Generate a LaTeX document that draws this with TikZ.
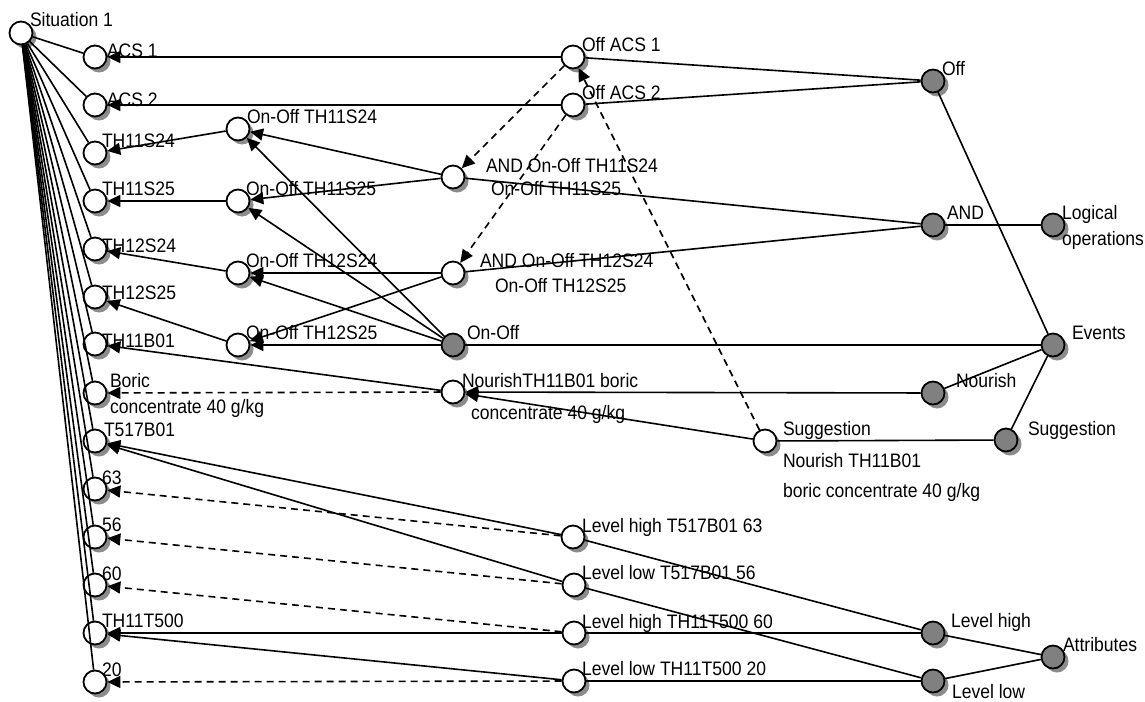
\documentclass[tikz,border=0pt]{standalone}
\usepackage{fontspec}
\setmainfont{Liberation Sans}[FakeStretch=0.9]
\usetikzlibrary{arrows.meta,shadows}
\definecolor{nodegray}{HTML}{808080}
\definecolor{shadowgray}{HTML}{8C8C8C}
\begin{document}
\begin{tikzpicture}[x=1pt,y=-1pt,
  font=\fontsize{19.5}{22}\selectfont,
  basenode/.style={circle,draw,line width=1.8pt,minimum size=23pt,inner sep=0pt,
    general shadow={fill=shadowgray,shadow xshift=4pt,shadow yshift=-4pt}},
  wn/.style={basenode,fill=white},
  gn/.style={basenode,fill=nodegray},
  lbl/.style={anchor=base west,inner sep=0pt,outer sep=0pt},
  ln/.style={line width=1.6pt},
  ar/.style={ln,-{Triangle[length=13pt,width=12pt]}},
  da/.style={ar,dash pattern=on 7pt off 5pt},
  dl/.style={ln,dash pattern=on 7pt off 5pt}]
\useasboundingbox (0,0) rectangle (1145,701);

% ---- nodes ----
\node[wn] (s1) at (21,33) {};
\node[wn] (acs1) at (95,57) {};
\node[wn] (acs2) at (95,105) {};
\node[wn] (t1124) at (95,153) {};
\node[wn] (t1125) at (95,201) {};
\node[wn] (t1224) at (95,249) {};
\node[wn] (t1225) at (95,297) {};
\node[wn] (t11b) at (95,344) {};
\node[wn] (boric) at (95,393) {};
\node[wn] (t517) at (95,441) {};
\node[wn] (n63) at (95,489) {};
\node[wn] (n56) at (95,537) {};
\node[wn] (n60) at (95,585) {};
\node[wn] (t500) at (95,633) {};
\node[wn] (n20) at (95,682) {};

\node[wn] (oo1) at (238,129) {};
\node[wn] (oo2) at (238,201) {};
\node[wn] (oo3) at (238,273) {};
\node[wn] (oo4) at (238,345) {};

\node[wn] (and1) at (453,177) {};
\node[wn] (and2) at (453,273) {};
\node[gn] (onoff) at (453,345) {};
\node[wn] (nour1) at (453,392) {};

\node[wn] (offa1) at (573,57) {};
\node[wn] (offa2) at (573,105) {};
\node[wn] (lh63) at (573,537) {};
\node[wn] (ll56) at (574,585) {};
\node[wn] (lh60) at (574,633) {};
\node[wn] (ll20) at (574,681) {};
\node[wn] (sugw) at (765,441) {};

\node[gn] (offg) at (933,81) {};
\node[gn] (andg) at (933,225) {};
\node[gn] (nourg) at (933,393) {};
\node[gn] (lhg) at (933,633) {};
\node[gn] (llg) at (933,681) {};
\node[gn] (sugg) at (1006,440) {};

\node[gn] (logic) at (1053,225) {};
\node[gn] (events) at (1053,345) {};
\node[gn] (attr) at (1053,657) {};

% ---- edges ----
\foreach \t in {acs1,acs2,t1124,t1125,t1224,t1225,t11b,boric,t517,n63,n56,n60,t500,n20}
  \draw[ln] (s1) -- (\t);

\draw[ar] (offa1) -- (acs1);
\draw[ar] (offa2) -- (acs2);
\draw[ar] (oo1) -- (t1124);
\draw[ar] (oo2) -- (t1125);
\draw[ar] (oo3) -- (t1224);
\draw[ar] (oo4) -- (t1225);
\draw[ar] (and1) -- (oo1);
\draw[ar] (and1) -- (oo2);
\draw[ar] (and2) -- (oo3);
\draw[ar] (and2) -- (oo4);
\draw[ar] (onoff) -- (oo1);
\draw[ar] (onoff) -- (oo2);
\draw[ar] (onoff) -- (oo3);
\draw[ar] (onoff) -- (oo4);
\draw[ar] (nour1) -- (t11b);
\draw[da] (nour1) -- (boric);
\draw[ar] (nourg) -- (nour1);
\draw[ar] (sugw) -- (nour1);
\draw[da] (sugw) -- (offa1);
\draw[da] (offa1) -- (and1);
\draw[da] (offa2) -- (and2);

\draw[ln] (offg) -- (offa1);
\draw[ln] (offg) -- (offa2);
\draw[ln] (offg) -- (events);
\draw[ln] (andg) -- (and1);
\draw[ln] (andg) -- (and2);
\draw[ln] (andg) -- (logic);
\draw[ln] (onoff) -- (events);
\draw[ln] (nourg) -- (events);
\draw[ln] (sugg) -- (events);
\draw[ln] (sugg) -- (sugw);
\draw[ln] (lhg) -- (lh63);
\draw[ln] (lhg) -- (lh60);
\draw[ln] (lhg) -- (attr);
\draw[ln] (llg) -- (ll56);
\draw[ln] (llg) -- (ll20);
\draw[ln] (llg) -- (attr);

\draw[ar] (lh63) -- (t517);
\draw[da] (lh63) -- (n63);
\draw[ar] (ll56) -- (t517);
\draw[da] (ll56) -- (n56);
\draw[ar] (lh60) -- (t500);
\draw[da] (lh60) -- (n60);
\draw[ar] (ll20) -- (t500);
\draw[da] (ll20) -- (n20);

% ---- labels ----
\node[lbl] (Ls1) at (30,27) {Situation 1};
\node[lbl] (Lacs1) at (107,57) {ACS 1};
\node[lbl] (Lacs2) at (107,106) {ACS 2};
\node[lbl] (Lt1124) at (102,147) {TH11S24};
\node[lbl] (Lt1125) at (102,195) {TH11S25};
\node[lbl] (Lt1224) at (102,252) {TH12S24};
\node[lbl] (Lt1225) at (102,299) {TH12S25};
\node[lbl] (Lt11b) at (102,347) {TH11B01};
\node[lbl] (Lboric) at (110,387) {Boric};
\node[lbl] (Lboric2) at (110,413) {concentrate 40 g/kg};
\node[lbl] (Lt517) at (104,436) {T517B01};
\node[lbl] (Ln63) at (102,484) {63};
\node[lbl] (Ln56) at (102,531) {56};
\node[lbl] (Ln60) at (102,580) {60};
\node[lbl] (Lt500) at (102,627) {TH11T500};
\node[lbl] (Ln20) at (102,676) {20};

\node[lbl] (Loo1) at (247,123) {On-Off TH11S24};
\node[lbl] (Loo2) at (246,195) {On-Off TH11S25};
\node[lbl] (Loo3) at (246,267) {On-Off TH12S24};
\node[lbl] (Loo4) at (246,339) {On-Off TH12S25};

\node[lbl] (Land1) at (486,172) {AND On-Off TH11S24};
\node[lbl] (Land1b) at (491,195) {On-Off TH11S25};
\node[lbl] (Land2) at (480,267) {AND On-Off TH12S24};
\node[lbl] (Land2b) at (495,292) {On-Off TH12S25};
\node[lbl] (Lonoff) at (467,339) {On-Off};
\node[lbl] (Lnour1) at (462,387) {NourishTH11B01 boric};
\node[lbl] (Lnour1b) at (471,419) {concentrate 40 g/kg};

\node[lbl] (Loffa1) at (582,52) {Off ACS 1};
\node[lbl] (Loffa2) at (582,99) {Off ACS 2};
\node[lbl] (Llh63) at (582,532) {Level high T517B01 63};
\node[lbl] (Lll56) at (582,579) {Level low T517B01 56};
\node[lbl] (Llh60) at (582,628) {Level high TH11T500 60};
\node[lbl] (Lll20) at (582,675) {Level low TH11T500 20};
\node[lbl] (Lsugw) at (783,435) {Suggestion};
\node[lbl] (Lsugw2) at (783,467) {Nourish TH11B01};
\node[lbl] (Lsugw3) at (783,497) {boric concentrate 40 g/kg};

\node[lbl] (Loffg) at (942,75) {Off};
\node[lbl] (Landg) at (947,219) {AND};
\node[lbl] (Lnourg) at (956,387) {Nourish};
\node[lbl] (Llhg) at (951,627) {Level high};
\node[lbl] (Lllg) at (952,698) {Level low};
\node[lbl] (Lsugg) at (1028,435) {Suggestion};
\node[lbl] (Llogic) at (1062,219) {Logical};
\node[lbl] (Llogic2) at (1062,245) {operations};
\node[lbl] (Levents) at (1072,339) {Events};
\node[lbl] (Lattr) at (1063,651) {Attributes};
\end{tikzpicture}
\end{document}
